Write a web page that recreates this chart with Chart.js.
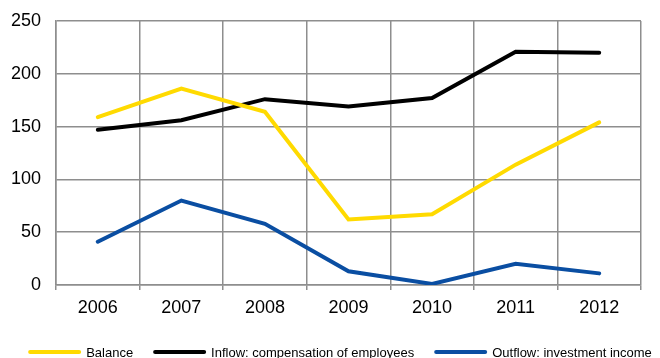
<!DOCTYPE html>
<html>
<head>
<meta charset="utf-8">
<script src="https://cdn.jsdelivr.net/npm/chart.js@4"></script>
<style>
  html, body { margin: 0; padding: 0; background: #fff; overflow: hidden; }
  #wrap { width: 660px; height: 358px; }
</style>
</head>
<body>
<div id="wrap"><canvas id="flows"></canvas></div>
<script>
// Years on the category axis
const years = ["2006", "2007", "2008", "2009", "2010", "2011", "2012"];

// Series values
const balance = [159, 186, 164, 62, 67, 114, 154];
const inflowCompensation = [147, 156, 176, 169, 177, 221, 220];
const outflowInvestment = [41, 80, 58, 13, 1, 20, 11];

// Value axis ticks
const yTicks = [0, 50, 100, 150, 200, 250];

const GRID = "#8e8e8e";
const TEXT = "#000000";
const FONT = "Liberation Sans, Arial, sans-serif";

function lineSeries(label, data, color) {
    return {
        label: label,
        data: data,
        borderColor: color,
        backgroundColor: color,
        borderWidth: 4,
        borderCapStyle: "round",
        borderJoinStyle: "miter",
        pointRadius: 0,
        pointHoverRadius: 0,
        tension: 0,
        fill: false,
    };
}

// Single-row legend under the axis: long line swatch, small gap, label
const lineLegend = {
    id: "lineLegend",
    afterDraw(chart) {
        const ctx = chart.ctx;
        const swatch = 53, gap = 5, spacing = 20, y = 352;
        ctx.save();
        ctx.font = "13px " + FONT;
        ctx.textBaseline = "middle";
        ctx.fillStyle = TEXT;
        const items = chart.data.datasets.map((ds) => ({
            text: ds.label,
            color: ds.borderColor,
            w: ctx.measureText(ds.label).width,
        }));
        const total = items.reduce((s, it) => s + swatch + gap + it.w, 0) + spacing * (items.length - 1);
        let x = 340 - total / 2;
        items.forEach((it) => {
            ctx.strokeStyle = it.color;
            ctx.lineWidth = 4;
            ctx.lineCap = "round";
            ctx.beginPath();
            ctx.moveTo(x + 2, y);
            ctx.lineTo(x + swatch - 2, y);
            ctx.stroke();
            ctx.fillText(it.text, x + swatch + gap, y + 1);
            x += swatch + gap + it.w + spacing;
        });
        ctx.restore();
    },
};

new Chart(document.getElementById("flows"), {
    type: "line",
    data: {
        labels: years,
        datasets: [
            lineSeries("Balance", balance, "#ffda00"),
            lineSeries("Inflow: compensation of employees", inflowCompensation, "#000000"),
            lineSeries("Outflow: investment income", outflowInvestment, "#0a4ea2"),
        ],
    },
    options: {
        responsive: true,
        maintainAspectRatio: false,
        animation: false,
        layout: { padding: { top: 0, right: 19, left: 0, bottom: 32 } },
        plugins: {
            tooltip: { enabled: false },
            legend: { display: false },
        },
        scales: {
            x: {
                offset: true,
                grid: {
                    offset: true,
                    color: GRID,
                    lineWidth: 1.5,
                    drawTicks: true,
                    tickLength: 5,
                    tickColor: GRID,
                },
                border: { color: GRID, width: 1.5 },
                ticks: {
                    color: TEXT,
                    padding: 7,
                    maxRotation: 0,
                    font: { family: FONT, size: 18 },
                },
                afterFit: (scale) => { scale.height = 41; },
            },
            y: {
                min: 0,
                max: 250,
                afterBuildTicks: (scale) => {
                    scale.ticks = yTicks.map((v) => ({ value: v }));
                },
                grid: {
                    color: GRID,
                    lineWidth: 1.5,
                    drawTicks: false,
                },
                border: { color: GRID, width: 1.5 },
                ticks: {
                    color: TEXT,
                    padding: 15,
                    // tight line height keeps the top tick's margin small
                    font: { family: FONT, size: 18, lineHeight: 0.67 },
                },
                afterFit: (scale) => { scale.width = 56; },
            },
        },
    },
    plugins: [lineLegend],
});
</script>
</body>
</html>
